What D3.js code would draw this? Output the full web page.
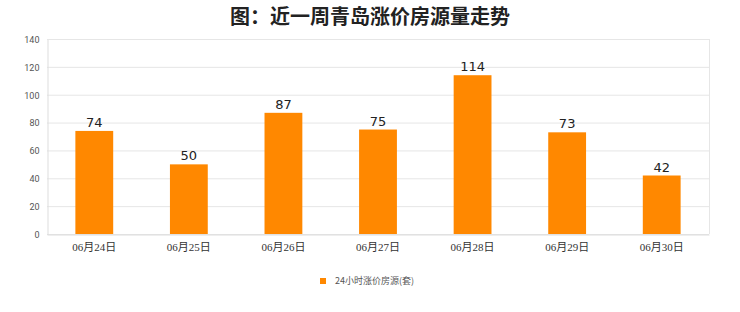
<!DOCTYPE html>
<html>
<head>
<meta charset="utf-8">
<script src="https://cdn.jsdelivr.net/npm/d3@7"></script>
<style>
  body { margin: 0; background: #fff; }
  svg { display: block; }
</style>
</head>
<body>
<div class="chart"></div>
<script>
const dates = ["06月24日", "06月25日", "06月26日", "06月27日", "06月28日", "06月29日", "06月30日"];
const counts = [74, 50, 87, 75, 114, 73, 42];
const yTicks = [0, 20, 40, 60, 80, 100, 120, 140];
const seriesName = "24小时涨价房源(套)";

const width = 740, height = 312;
const margin = { top: 39, right: 31, bottom: 78, left: 47 };
const barColor = "#ff8800";

const svg = d3.select(".chart")
  .append("svg")
  .attr("width", width)
  .attr("height", height);

// title
svg.append("text")
  .attr("x", width / 2)
  .attr("y", 24)
  .attr("text-anchor", "middle")
  .style("font-family", "'Noto Sans CJK SC', sans-serif")
  .style("font-size", "20px")
  .style("font-weight", "bold")
  .style("fill", "#222")
  .text("图：近一周青岛涨价房源量走势");

const xScale = d3.scaleBand()
  .domain(dates)
  .range([margin.left, width - margin.right])
  .paddingInner(0.6)
  .paddingOuter(0.3);

const yScale = d3.scaleLinear()
  .domain([0, 140])
  .range([height - margin.bottom, margin.top]);

// grid lines
svg.append("g")
  .selectAll("line")
  .data(yTicks)
  .enter()
  .append("line")
  .attr("x1", margin.left)
  .attr("x2", width - margin.right)
  .attr("y1", d => yScale(d) + 0.5)
  .attr("y2", d => yScale(d) + 0.5)
  .attr("stroke", "#e6e6e6");

// right border
svg.append("line")
  .attr("x1", width - margin.right + 0.5)
  .attr("x2", width - margin.right + 0.5)
  .attr("y1", margin.top)
  .attr("y2", height - margin.bottom)
  .attr("stroke", "#e6e6e6");

// y axis
const yAxis = d3.axisLeft(yScale).tickValues(yTicks).tickSize(0).tickPadding(8);
const yAxisGroup = svg.append("g")
  .attr("transform", `translate(${margin.left + 0.5}, 0.5)`)
  .call(yAxis);
yAxisGroup.select(".domain").attr("stroke", "#ddd");
yAxisGroup.selectAll("text")
  .style("font-family", "Roboto, sans-serif")
  .style("font-size", "9px")
  .style("fill", "#555");

// x axis
const xAxis = d3.axisBottom(xScale).tickSize(0).tickPadding(9);
const xAxisGroup = svg.append("g")
  .attr("transform", `translate(0, ${height - margin.bottom + 0.5})`)
  .call(xAxis);
xAxisGroup.select(".domain").attr("stroke", "#ddd");
xAxisGroup.selectAll("text")
  .style("font-family", "'Liberation Serif', 'Noto Sans CJK SC', serif")
  .style("font-size", "11px")
  .style("fill", "#333");

// bars
svg.append("g")
  .selectAll("rect")
  .data(counts)
  .enter()
  .append("rect")
  .attr("x", (d, i) => xScale(dates[i]))
  .attr("y", d => yScale(d))
  .attr("width", xScale.bandwidth())
  .attr("height", d => yScale(0) - yScale(d))
  .attr("fill", barColor);

// value labels
svg.append("g")
  .selectAll("text")
  .data(counts)
  .enter()
  .append("text")
  .attr("x", (d, i) => xScale(dates[i]) + xScale.bandwidth() / 2)
  .attr("y", d => yScale(d) - 4)
  .attr("text-anchor", "middle")
  .style("font-family", "'DejaVu Sans', sans-serif")
  .style("font-size", "13px")
  .style("fill", "#222")
  .text(d => d);

// legend
const legend = svg.append("g").attr("transform", "translate(320, 281)");
legend.append("rect")
  .attr("x", 0)
  .attr("y", -3)
  .attr("width", 6)
  .attr("height", 6)
  .attr("fill", barColor);
legend.append("text")
  .attr("x", 15)
  .attr("y", 3)
  .style("font-family", "'Noto Sans CJK SC', sans-serif")
  .style("font-size", "9px")
  .style("fill", "#555")
  .text(seriesName);
</script>
</body>
</html>
